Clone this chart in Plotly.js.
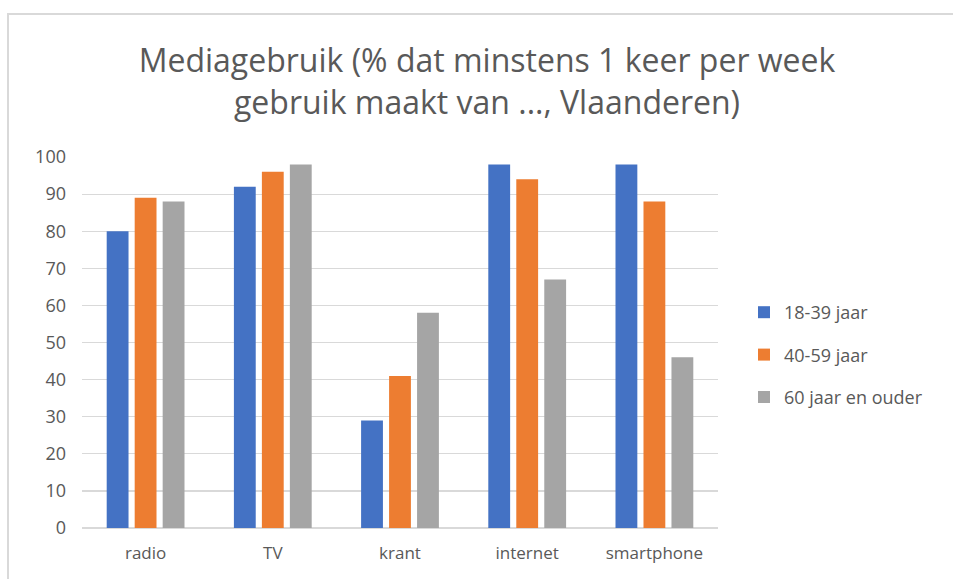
<!DOCTYPE html>
<html>
<head>
<meta charset="utf-8">
<script src="https://cdn.plot.ly/plotly-3.0.1.min.js"></script>
<style>
  html, body { margin: 0; padding: 0; background: #fff; }
  #wrap { position: relative; width: 953px; height: 579px; }
  #chart { width: 953px; height: 579px; }
  #frame { position: absolute; left: 7px; top: 13px; width: 946px; height: 566px;
           border-left: 2px solid #d9d9d9; border-top: 2px solid #d9d9d9; pointer-events: none; box-sizing: border-box; }
</style>
</head>
<body>
<div id="wrap">
  <div id="chart"></div>
  <div id="frame"></div>
</div>
<script>
const categories = ["radio", "TV", "krant", "internet", "smartphone"];
const seriesNames = ["18-39 jaar", "40-59 jaar", "60 jaar en ouder"];
const young = [80, 92, 29, 98, 98];
const middle = [89, 96, 41, 94, 88];
const old = [88, 98, 58, 67, 46];
const yTicks = [0, 10, 20, 30, 40, 50, 60, 70, 80, 90, 100];
const colors = ["#4472C4", "#ED7D31", "#A5A5A5"];

const seriesValues = [young, middle, old];
const font = "Open Sans, Noto Sans, sans-serif";

const traces = seriesValues.map((vals, i) => ({
  type: "bar",
  x: categories,
  y: vals,
  name: seriesNames[i],
  legendgroup: "g" + i,
  marker: { color: colors[i], line: { width: 0 } },
  hoverinfo: "x+y+name"
}));

const layout = {
  width: 953,
  height: 579,
  paper_bgcolor: "#ffffff",
  plot_bgcolor: "#ffffff",
  margin: { l: 82, r: 235, t: 157, b: 51 },
  title: {
    text: "Mediagebruik (% dat minstens 1 keer per week<br>gebruik maakt van ..., Vlaanderen)",
    font: { family: font, size: 32, color: "#595959" },
    x: 487 / 953,
    xanchor: "center",
    y: 1 - 72 / 579,
    yanchor: "middle"
  },
  barmode: "group",
  bargap: 0.34,
  bargroupgap: 0.22,
  xaxis: {
    type: "category",
    tickfont: { family: font, size: 17, color: "#595959" },
    showline: false,
    showgrid: false,
    ticks: "",
    ticklabelstandoff: 13
  },
  yaxis: {
    range: [0, 100],
    tickvals: yTicks,
    ticktext: yTicks.map(String),
    tickfont: { family: font, size: 18, color: "#595959" },
    showgrid: true,
    gridcolor: "#d9d9d9",
    gridwidth: 1.2,
    zeroline: true,
    zerolinecolor: "#d9d9d9",
    zerolinewidth: 1.2,
    showline: false,
    ticks: "",
    ticklabelstandoff: 15
  },
  legend: {
    x: (744 - 82) / 636,
    xanchor: "left",
    y: 1 - (355 - 157) / 371,
    yanchor: "middle",
    traceorder: "grouped",
    tracegroupgap: 16,
    font: { family: font, size: 18, color: "#595959" },
    bgcolor: "rgba(0,0,0,0)"
  },
  showlegend: true
};

Plotly.newPlot("chart", traces, layout, { displayModeBar: false, staticPlot: true });
</script>
</body>
</html>
